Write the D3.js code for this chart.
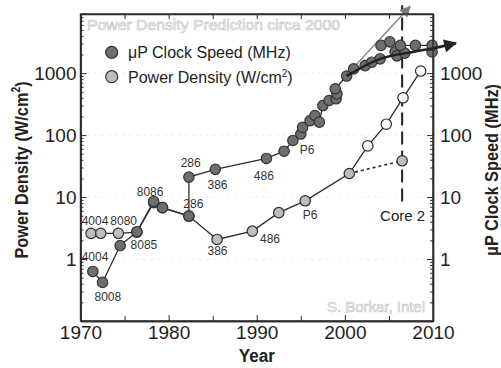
<!DOCTYPE html>
<html><head><meta charset="utf-8">
<script src="https://cdn.jsdelivr.net/npm/d3@7"></script>
<style>
html,body{margin:0;padding:0;background:#fff;}
svg{display:block;font-family:"Liberation Sans",Arial,sans-serif;}
</style></head><body>
<svg id="c" width="501" height="368"></svg>
<script>
// ---- data ----
const xTicks = [1970, 1980, 1990, 2000, 2010];
const xMinorTicks = [1975, 1985, 1995, 2005];
const yTicks = [1, 10, 100, 1000];
// Power density (W/cm^2): [year, value, projected]
const powerDensity = [
  [1971.2, 2.59, 0], [1972.3, 2.6, 0], [1974.3, 2.6, 0], [1976.4, 2.72, 0],
  [1978.3, 8.1, 0], [1979.3, 6.75, 0], [1982.3, 4.94, 0], [1985.5, 2.07, 0],
  [1989.5, 2.82, 0], [1992.5, 5.6, 0], [1995.5, 8.7, 0], [2000.5, 24, 0],
  [2002.6, 67, 1], [2004.7, 150, 1], [2006.6, 400, 1], [2008.6, 1080, 1]
];
const core2Density = [[2000.5, 24], [2006.5, 38.5]];
// Clock speed (MHz)
const clockMain = [
  [1971.4, 0.63], [1972.5, 0.42], [1974.5, 1.65], [1976.4, 2.76], [1978.3, 8.5],
  [1979.3, 6.75], [1982.3, 4.94], [1982.3, 21], [1985.3, 28], [1991.1, 42],
  [1993.1, 55], [1994.1, 82], [1995.0, 104], [1995.2, 133], [1996.05, 171],
  [1996.6, 207], [1997.1, 162], [1997.5, 300], [1998.2, 362], [1999.0, 385],
  [1999.1, 464], [1998.9, 560], [2000.2, 897], [2001.0, 1170]
];
const clockTopRow = [[2004.1, 2800], [2005.1, 3200], [2006.3, 2800], [2008.0, 2800], [2009.9, 2800]];
const clockOther = [[2002.3, 1320], [2003.05, 1500], [2004.0, 1700], [2005.7, 2200], [2005.9, 1900], [2006.8, 2100], [2009.9, 2200]];
const clockTrend = [[2000.2, 900], [2004.0, 1700], [2007.7, 2200], [2009.9, 2500], [2012.6, 3050]];
const clockExp = [[2000.0, 870], [2007.4, 11900]];
const core2Line = [[2006.5, 8.5], [2006.5, 12500]];
// point labels: [year, value, text]
const labels = [
  [1971.65, 4.21, "4004"], [1974.9, 4.21, "8080"], [1971.65, 1.1, "4004"],
  [1973.1, 0.247, "8008"], [1977.2, 1.72, "8085"], [1977.9, 12.1, "8086"],
  [1982.5, 36.2, "286"], [1982.8, 7.94, "286"], [1985.55, 16.1, "386"],
  [1985.55, 1.34, "386"], [1990.8, 22, "486"], [1991.5, 2.13, "486"],
  [1995.7, 58.4, "P6"], [1996.05, 5.26, "P6"]
];
const core2Label = [2006.55, 5.07, "Core 2"];

// ---- scales ----
const svg = d3.select("#c");
const x = d3.scaleLinear().domain([1970, 2010]).range([80.5, 433]);
const y = d3.scaleLog().domain([0.1, 9000]).range([321, 14]);
const [x0, x1] = x.range();
const [yb, yt] = y.range();
const ink = "#2b2b2b";

// faint dotted grid
svg.append("g").selectAll("line").data(yTicks).join("line")
  .attr("x1", x0).attr("x2", x1).attr("y1", d => y(d)).attr("y2", d => y(d))
  .attr("stroke", "#e6e6e6").attr("stroke-dasharray", "2,5").attr("stroke-width", 1);

// watermark texts
svg.append("text").attr("x", 87).attr("y", 30).attr("font-size", 14)
  .attr("textLength", 253).attr("lengthAdjust", "spacingAndGlyphs")
  .attr("fill", "#ffffff").attr("stroke", "#c2c2c2").attr("stroke-width", 0.6)
  .text("Power Density Prediction circa 2000");
svg.append("text").attr("x", 327).attr("y", 312).attr("font-size", 14)
  .attr("textLength", 98).attr("lengthAdjust", "spacingAndGlyphs")
  .attr("fill", "#ffffff").attr("stroke", "#c2c2c2").attr("stroke-width", 0.6)
  .text("S. Borkar, Intel");

// minor y tick values
const yMinor = [];
[0.1, 1, 10, 100, 1000].forEach(dec => { for (let k = 2; k <= 9; k++) if (dec * k <= 9000) yMinor.push(dec * k); });

function styleAxis(g) {
  g.selectAll("path").attr("stroke", ink).attr("stroke-width", 1.4);
  g.selectAll("line").attr("stroke", ink).attr("stroke-width", 1);
  g.selectAll("text").attr("fill", "#222").attr("font-size", 19).attr("font-family", '"Liberation Sans",Arial,sans-serif');
}
// left axis
svg.append("g").attr("transform", `translate(${x0},0)`)
  .call(d3.axisLeft(y).tickValues(yMinor).tickFormat("").tickSize(-3).tickSizeOuter(0)).call(styleAxis);
svg.append("g").attr("transform", `translate(${x0},0)`)
  .call(d3.axisLeft(y).tickValues(yTicks).tickFormat(d3.format("d")).tickSize(-6).tickPadding(4).tickSizeOuter(0)).call(styleAxis);
// right axis
svg.append("g").attr("transform", `translate(${x1},0)`)
  .call(d3.axisRight(y).tickValues(yMinor).tickFormat("").tickSize(-3).tickSizeOuter(0)).call(styleAxis);
svg.append("g").attr("transform", `translate(${x1},0)`)
  .call(d3.axisRight(y).tickValues(yTicks).tickFormat(d3.format("d")).tickSize(-6).tickPadding(7).tickSizeOuter(0)).call(styleAxis);
// bottom axis
svg.append("g").attr("transform", `translate(0,${yb})`)
  .call(d3.axisBottom(x).tickValues(xMinorTicks).tickFormat("").tickSize(-5).tickSizeOuter(0)).call(styleAxis);
svg.append("g").attr("transform", `translate(0,${yb})`)
  .call(d3.axisBottom(x).tickValues(xTicks).tickFormat(d3.format("d")).tickSize(-6).tickPadding(5).tickSizeOuter(0)).call(styleAxis);
// top axis
svg.append("g").attr("transform", `translate(0,${yt})`)
  .call(d3.axisTop(x).tickValues(xMinorTicks.concat(xTicks)).tickFormat("").tickSize(-5).tickSizeOuter(0)).call(styleAxis);

// axis titles
svg.append("text").attr("transform", `translate(${(x0 + x1) / 2},362) scale(0.9,1)`).attr("text-anchor", "middle")
  .attr("font-size", 19).attr("font-weight", "bold").attr("fill", "#222").text("Year");
const lt = svg.append("text").attr("transform", "translate(28,170) rotate(-90) scale(0.86,1)").attr("text-anchor", "middle")
  .attr("font-size", 19).attr("font-weight", "bold").attr("fill", "#222");
lt.append("tspan").text("Power Density (W/cm");
lt.append("tspan").attr("font-size", 12).attr("dy", -8).text("2");
lt.append("tspan").attr("dy", 8).text(")");
svg.append("text").attr("transform", "translate(498,170) rotate(-90) scale(0.86,1)").attr("text-anchor", "middle")
  .attr("font-size", 19).attr("font-weight", "bold").attr("fill", "#222").text("μP Clock Speed (MHz)");

// markers
const defs = svg.append("defs");
defs.append("marker").attr("id", "ah1").attr("viewBox", "0 0 10 10").attr("refX", 9).attr("refY", 5)
  .attr("markerUnits", "userSpaceOnUse").attr("markerWidth", 14).attr("markerHeight", 11).attr("orient", "auto")
  .append("path").attr("d", "M0,0 L10,5 L0,10 Z").attr("fill", "#7a7a7a");
defs.append("marker").attr("id", "ah2").attr("viewBox", "0 0 10 10").attr("refX", 9).attr("refY", 5)
  .attr("markerUnits", "userSpaceOnUse").attr("markerWidth", 17).attr("markerHeight", 13).attr("orient", "auto")
  .append("path").attr("d", "M0,0 L10,5 L0,10 Z").attr("fill", "#222");

const line = d3.line().x(d => x(d[0])).y(d => y(d[1]));

// Core 2 dashed vertical
svg.append("path").attr("d", line(core2Line)).attr("stroke", "#222").attr("stroke-width", 2)
  .attr("stroke-dasharray", "13,6").attr("fill", "none");

// series lines
svg.append("path").attr("d", line(powerDensity)).attr("stroke", ink).attr("stroke-width", 1.3).attr("fill", "none");
svg.append("path").attr("d", line(core2Density)).attr("stroke", ink).attr("stroke-width", 1.6)
  .attr("stroke-dasharray", "3,3").attr("fill", "none");
svg.append("path").attr("d", line(clockMain)).attr("stroke", ink).attr("stroke-width", 1.3).attr("fill", "none");
svg.append("path").attr("d", line(clockTopRow)).attr("stroke", ink).attr("stroke-width", 1.3).attr("fill", "none");

// trend arrows
svg.append("path").attr("d", line(clockExp)).attr("stroke", "#7a7a7a").attr("stroke-width", 1.3)
  .attr("fill", "none").attr("marker-end", "url(#ah1)");

// points
const r = 5.2;
svg.append("g").selectAll("circle").data(powerDensity).join("circle")
  .attr("cx", d => x(d[0])).attr("cy", d => y(d[1])).attr("r", r)
  .attr("fill", d => d[2] ? "#fafafa" : "#bdbdbd").attr("stroke", ink).attr("stroke-width", 1.2);
svg.append("circle").attr("cx", x(core2Density[1][0])).attr("cy", y(core2Density[1][1])).attr("r", r)
  .attr("fill", "#bdbdbd").attr("stroke", ink).attr("stroke-width", 1.2);
const clockAll = clockMain.concat(clockOther, clockTopRow);
svg.append("g").selectAll("circle").data(clockAll).join("circle")
  .attr("cx", d => x(d[0])).attr("cy", d => y(d[1])).attr("r", r)
  .attr("fill", "#6e6e6e").attr("stroke", "#333").attr("stroke-width", 1.2);

svg.append("path").attr("d", d3.line().curve(d3.curveMonotoneX).x(d => x(d[0])).y(d => y(d[1]))(clockTrend))
  .attr("stroke", "#222").attr("stroke-width", 2.6).attr("fill", "none").attr("marker-end", "url(#ah2)");

// point labels
svg.append("g").selectAll("text").data(labels).join("text")
  .attr("x", d => x(d[0])).attr("y", d => y(d[1])).attr("dy", "0.36em").attr("text-anchor", "middle")
  .attr("font-size", 12).attr("fill", "#333").text(d => d[2]);
svg.append("text").attr("x", x(core2Label[0])).attr("y", y(core2Label[1])).attr("dy", "0.36em")
  .attr("text-anchor", "middle").attr("font-size", 15).attr("fill", "#222").text(core2Label[2]);

// legend
const lg = svg.append("g");
lg.append("circle").attr("cx", 111.7).attr("cy", 52.3).attr("r", 6).attr("fill", "#6e6e6e").attr("stroke", "#333").attr("stroke-width", 1.2);
lg.append("circle").attr("cx", 111.7).attr("cy", 76.7).attr("r", 6).attr("fill", "#bdbdbd").attr("stroke", "#333").attr("stroke-width", 1.2);
lg.append("text").attr("x", 128).attr("y", 58).attr("font-size", 16).attr("fill", "#222").text("μP Clock Speed (MHz)");
const l2 = lg.append("text").attr("x", 128).attr("y", 82.5).attr("font-size", 16).attr("fill", "#222");
l2.append("tspan").text("Power Density (W/cm");
l2.append("tspan").attr("font-size", 10).attr("dy", -6).text("2");
l2.append("tspan").attr("dy", 6).text(")");

// frame
svg.append("rect").attr("x", x0).attr("y", yt).attr("width", x1 - x0).attr("height", yb - yt)
  .attr("fill", "none").attr("stroke", ink).attr("stroke-width", 1.4);
</script></body></html>
